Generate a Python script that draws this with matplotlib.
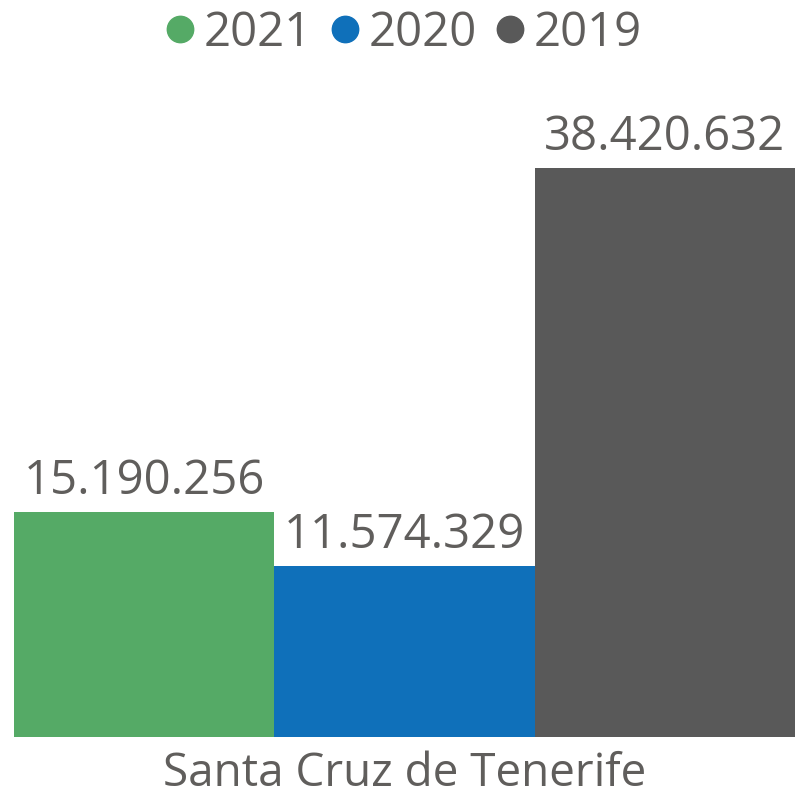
import matplotlib.pyplot as plt
from matplotlib.lines import Line2D

plt.rcParams['font.family'] = ['Open Sans', 'DejaVu Sans']

category = "Santa Cruz de Tenerife"
years = ["2021", "2020", "2019"]
values = [15190256, 11574329, 38420632]
colors = ["#55AA66", "#0F70BA", "#595959"]
txt = "#605E5C"

def fmt(v):
    return f"{v:,}".replace(",", ".")

fig = plt.figure(figsize=(7.95, 8.01), dpi=100)
ax = fig.add_axes([14/795, 64/801, 781/795, 637/801])

pos = [-1, 0, 1]
bars = ax.bar(pos, values, width=1.0, color=colors, linewidth=0)
for b, v in zip(bars, values):
    ax.annotate(fmt(v), (b.get_x() + b.get_width()/2, v), xytext=(0, 5),
                textcoords="offset points", ha="center", va="bottom",
                fontsize=34, color=txt)

ax.set_xlim(-1.5, 1.5)
ax.set_ylim(0, 43.0e6)
ax.set_xticks([0])
ax.set_xticklabels([category], fontsize=33, color=txt)
ax.tick_params(axis="x", length=0, pad=10)
ax.set_yticks([])
for s in ax.spines.values():
    s.set_visible(False)

handles = [Line2D([], [], marker="o", linestyle="", markersize=19, color=c) for c in colors]
fig.legend(handles, years, loc="center", bbox_to_anchor=(0.502, 1 - 33/801), ncol=3,
           frameon=False, fontsize=34, labelcolor=txt, handletextpad=0.0,
           columnspacing=0.2, handlelength=1.0, borderpad=0)

fig.savefig("out.png", dpi=100)
